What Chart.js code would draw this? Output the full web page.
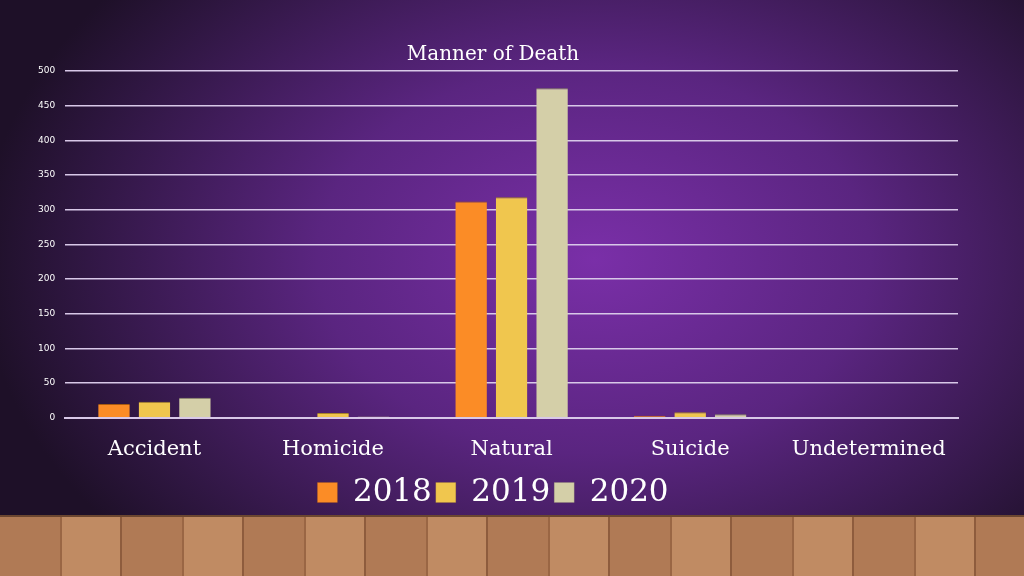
<!DOCTYPE html>
<html><head><meta charset="utf-8">
<script src="https://cdn.jsdelivr.net/npm/chart.js@4"></script>
<style>
html,body{margin:0;padding:0;width:1024px;height:576px;overflow:hidden;}
body{background:radial-gradient(ellipse 60% 75% at 58% 45%, #7a2fa8 0%, #5a2580 45%, #2e1640 85%, #1e1028 100%);position:relative;}
#wrap{position:absolute;left:0;top:0;width:1024px;height:518px;}
#floor{position:absolute;left:0;top:515px;width:1024px;height:61px;
background:repeating-linear-gradient(90deg,#b07a55 0 60px,#9a6644 60px 62px,#c08b63 62px 120px,#8e5c3d 120px 122px);
border-top:2px solid #6b4630;}
</style></head><body>
<div id="wrap"><canvas id="c" width="1024" height="518"></canvas></div>
<div id="floor"></div>
<script>
const categories=["Accident","Homicide","Natural","Suicide","Undetermined"];
const v2018=[20,1,312,3,0];
const v2019=[23,7,318,8,0];
const v2020=[29,2,475,5,1];
const yTicks=[0,50,100,150,200,250,300,350,400,450,500];
new Chart(document.getElementById('c'),{
type:'bar',
data:{labels:categories,datasets:[
{label:'2018',data:v2018,backgroundColor:'#fb8c26',borderColor:'#a85a10',borderWidth:{top:1}},
{label:'2019',data:v2019,backgroundColor:'#f0c64e',borderColor:'#a8852a',borderWidth:{top:1}},
{label:'2020',data:v2020,backgroundColor:'#d4cfa8',borderColor:'#8f8b6a',borderWidth:{top:1}}]},
options:{responsive:false,animation:false,devicePixelRatio:1,
layout:{padding:{left:28,right:66,top:43,bottom:0}},
datasets:{bar:{categoryPercentage:0.68,barPercentage:0.78}},
plugins:{
title:{display:true,text:'Manner of Death',color:'#ffffff',font:{family:'DejaVu Serif',size:20,weight:'normal'},padding:{top:0,bottom:4}},
legend:{position:'bottom',labels:{color:'#ffffff',font:{family:'DejaVu Serif',size:31},boxWidth:20,boxHeight:20,padding:4}},
tooltip:{enabled:false}},
scales:{
x:{grid:{display:false},border:{color:'#d8c8e8',width:2},ticks:{color:'#ffffff',maxRotation:0,font:{family:'DejaVu Serif',size:21},padding:11}},
y:{min:0,max:500,afterBuildTicks:a=>{a.ticks=yTicks.map(v=>({value:v}));},
grid:{color:'#d8c8e8',lineWidth:1.5,drawTicks:false},border:{display:false},
ticks:{color:'#ffffff',font:{family:'DejaVu Sans',size:9},padding:10}}}}
});
</script>
</body></html>
